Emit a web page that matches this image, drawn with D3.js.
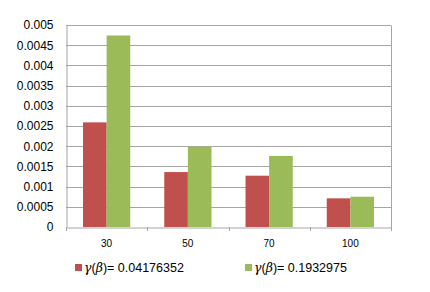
<!DOCTYPE html>
<html>
<head>
<meta charset="utf-8">
<script src="https://cdn.jsdelivr.net/npm/d3@7"></script>
<style>
body { margin: 0; background: #fff; }
text { font-family: "Liberation Sans", Arial, sans-serif; }
</style>
</head>
<body>
<div id="chart"></div>
<script>
// data
var categories = ["30", "50", "70", "100"];
var seriesNames = ["0.04176352", "0.1932975"];
var seriesA = [0.00259, 0.00136, 0.00127, 0.00071];
var seriesB = [0.00474, 0.00199, 0.00176, 0.00075];
var yTicks = [0, 0.0005, 0.001, 0.0015, 0.002, 0.0025, 0.003, 0.0035, 0.004, 0.0045, 0.005];
var colors = ["#c0504d", "#9bbb59"];

var width = 430, height = 292;
var plotLeft = 66, plotRight = 391, plotTop = 25, plotBottom = 227;

var svg = d3.select("#chart").append("svg")
    .attr("width", width)
    .attr("height", height);

var x = d3.scaleBand()
    .domain(categories)
    .range([plotLeft, plotRight])
    .paddingInner(0)
    .paddingOuter(0);

var xInner = d3.scaleBand()
    .domain([0, 1])
    .range([0, x.bandwidth()])
    .paddingInner(0)
    .paddingOuter(0.72);

var y = d3.scaleLinear()
    .domain([0, 0.005])
    .range([plotBottom, plotTop]);

// gridlines
svg.append("g")
    .selectAll("line")
    .data(yTicks.slice(1))
    .enter()
    .append("line")
    .attr("x1", plotLeft)
    .attr("x2", plotRight)
    .attr("y1", function (d) { return Math.round(y(d)) + 0.5; })
    .attr("y2", function (d) { return Math.round(y(d)) + 0.5; })
    .style("stroke", "#a6a6a6")
    .style("stroke-width", 1);

// right border
svg.append("line")
    .attr("x1", plotRight + 0.5).attr("x2", plotRight + 0.5)
    .attr("y1", Math.round(y(0.005)) + 0.5).attr("y2", plotBottom)
    .style("stroke", "#a6a6a6");

// bars
var data = categories.map(function (c, i) {
    return [seriesA[i], seriesB[i]];
});

var groups = svg.append("g")
    .selectAll("g")
    .data(data)
    .enter()
    .append("g")
    .attr("transform", function (d, i) { return "translate(" + x(categories[i]) + ",0)"; });

groups.selectAll("rect")
    .data(function (d) { return d; })
    .enter()
    .append("rect")
    .attr("x", function (d, i) { return xInner(i); })
    .attr("width", xInner.bandwidth())
    .attr("y", function (d) { return y(d); })
    .attr("height", function (d) { return y(0) - y(d); })
    .style("fill", function (d, i) { return colors[i]; });

// y axis
var yAxis = svg.append("g")
    .attr("transform", "translate(" + (plotLeft + 0.5) + ",0)")
    .call(d3.axisLeft(y).tickValues(yTicks).tickSize(0).tickPadding(13)
        .tickFormat(function (d) { return d === 0 ? "0" : String(+d.toFixed(4)); }));
yAxis.select(".domain").style("stroke", "#a6a6a6");
yAxis.selectAll("text")
    .style("font-size", "12px")
    .style("fill", "#000");

// x axis
var xAxis = svg.append("g")
    .attr("transform", "translate(0," + (plotBottom + 0.5) + ")")
    .call(d3.axisBottom(x).tickSize(0).tickPadding(12));
xAxis.select(".domain").style("stroke", "#a6a6a6");
xAxis.selectAll("text")
    .style("font-size", "10px")
    .style("fill", "#000");

// category boundary ticks
svg.append("g")
    .selectAll("line")
    .data(categories.concat([null]))
    .enter()
    .append("line")
    .attr("x1", function (d, i) { return Math.round(plotLeft + i * x.step()) + 0.5; })
    .attr("x2", function (d, i) { return Math.round(plotLeft + i * x.step()) + 0.5; })
    .attr("y1", plotBottom)
    .attr("y2", plotBottom + 4)
    .style("stroke", "#a6a6a6");

// legend
var legendX = [75, 245];
var legend = svg.append("g")
    .selectAll("g")
    .data(seriesNames)
    .enter()
    .append("g")
    .attr("transform", function (d, i) { return "translate(" + legendX[i] + ",264)"; });

legend.append("rect")
    .attr("width", 7)
    .attr("height", 7)
    .style("fill", function (d, i) { return colors[i]; });

var lt = legend.append("text")
    .attr("x", 9)
    .attr("y", 7.5)
    .style("font-size", "12.5px")
    .style("fill", "#000");
lt.append("tspan").style("font-family", "'DejaVu Serif', serif").style("font-style", "italic").text("γ");
lt.append("tspan").text("(");
lt.append("tspan").style("font-family", "'DejaVu Serif', serif").style("font-style", "italic").text("β");
lt.append("tspan").text(function (d) { return ")= " + d; });
</script>
</body>
</html>
